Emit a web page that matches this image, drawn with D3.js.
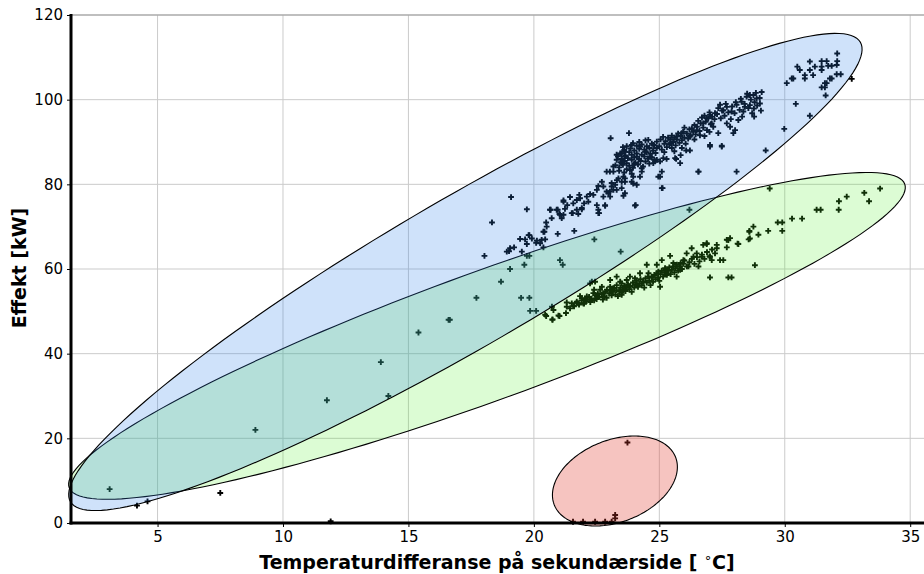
<!DOCTYPE html>
<html>
<head>
<meta charset="utf-8">
<script src="https://cdn.jsdelivr.net/npm/d3@7"></script>
<style>
  body { margin: 0; background: #fff; }
  text { font-family: "DejaVu Sans", sans-serif; }
</style>
</head>
<body>
<div id="chart"></div>
<script>
// Effekt vs temperaturdifferanse, clusters with ellipses

var width = 924;
var height = 574;

// upper cluster (blue ellipse)
var upperPoints = [
  [18.03,63.1],[18.33,71.0],[19.09,77.0],[19.72,74.1],[19.45,67.1],[19.82,68.0],[19.72,65.9],[19.65,67.0],
  [19.05,64.9],[19.01,64.2],[19.21,65.1],[18.92,64.1],[20.12,66.7],[20.31,66.9],[20.45,67.0],[20.25,66.1],
  [20.38,65.1],[20.09,66.2],[20.42,68.8],[20.51,70.0],[20.49,71.0],[20.71,72.0],[20.67,74.0],[20.95,74.0],
  [21.02,73.0],[21.11,72.0],[20.95,68.3],[21.24,74.2],[21.18,75.9],[21.33,75.1],[21.44,77.0],[21.57,75.5],
  [21.71,76.3],[21.81,77.5],[21.55,73.2],[21.77,73.0],[21.91,74.1],[22.0,75.5],[22.11,77.1],[22.24,77.7],
  [22.51,75.1],[22.6,73.2],[22.84,75.1],[22.77,77.1],[23.03,78.3],[23.17,78.7],[22.77,79.5],[22.57,79.6],
  [23.1,79.5],[23.24,79.9],[23.31,81.0],[23.5,79.1],[23.57,77.3],[23.03,83.0],[23.37,81.4],[23.63,81.4],
  [20.91,74.0],[21.18,72.8],[21.51,73.2],[21.71,74.0],[21.91,74.4],[22.17,75.9],[22.37,77.5],[22.57,74.0],
  [22.97,77.9],[23.1,80.3],[23.3,78.7],[23.5,80.6],[23.63,77.9],[23.9,80.6],[24.06,75.1],[25.1,79.1],
  [21.18,76.2],[21.84,76.7],[21.04,72.8],[20.64,74.0],[20.38,68.8],[19.79,68.0],[19.92,67.2],[22.71,80.6],
  [22.51,78.7],[22.9,78.3],[23.04,77.1],[23.17,83.0],[23.44,87.3],[23.63,86.5],[23.63,80.6],[23.96,80.2],
  [24.1,79.9],[24.83,85.4],[25.16,86.2],[24.96,81.8],[25.13,79.1],[25.63,86.2],[24.03,75.0],[22.57,73.2],
  [22.84,74.9],[21.61,69.0],[22.41,67.0],[23.46,64.1],
  [23.06,90.9],[23.79,92.1],[22.9,83.0],[23.17,84.2],[23.57,81.8],[23.96,81.8],[24.23,81.8],[24.3,83.8],
  [23.83,83.4],[23.5,85.0],[23.63,87.7],[23.9,89.3],[24.23,88.9],[24.56,90.5],[24.76,89.3],[24.43,87.7],
  [24.63,86.5],[24.1,86.5],[24.9,85.8],[24.76,85.0],[25.03,85.4],[25.29,86.0],[25.1,83.0],[25.03,81.8],
  [25.67,86.0],[25.85,86.9],[25.83,85.0],[26.56,83.0],[28.08,83.0],[26.07,88.0],[26.22,88.0],[27.02,88.9],
  [27.49,88.9],[29.24,88.0],[25.43,89.7],[25.69,91.3],[25.89,92.1],[26.22,91.3],[26.49,92.8],[26.62,91.6],
  [26.75,94.4],[26.89,95.6],[27.02,96.4],[27.22,96.8],[27.09,94.4],[27.35,92.1],[27.69,94.4],[27.82,93.6],
  [28.02,92.8],[27.95,92.1],[27.42,98.8],[27.55,97.5],[27.69,98.3],[27.88,97.2],[28.15,95.2],[28.08,98.8],
  [28.28,99.5],[28.41,98.3],[28.48,100.7],[28.61,101.1],[28.75,101.1],[28.88,100.3],[29.08,101.8],[29.01,99.1],
  [28.61,98.7],[28.77,97.9],[28.78,96.0],[28.35,97.2],[27.49,89.1],[27.02,89.3],[26.56,83.0],
  [23.25,84.5],[23.3,85.8],[23.35,86.6],[23.4,84.0],[23.45,85.2],[23.5,86.0],[23.5,87.3],[23.55,84.6],
  [23.6,85.5],[23.6,88.1],[23.65,86.8],[23.7,83.6],[23.7,85.0],[23.75,86.2],[23.8,87.6],[23.8,84.4],
  [23.85,88.5],[23.9,85.8],[23.9,87.0],[23.95,83.9],[24.0,86.4],[24.0,88.0],[24.05,85.1],[24.1,87.3],
  [24.1,89.1],[24.15,84.7],[24.2,86.0],[24.2,88.4],[24.25,85.5],[24.3,87.0],[24.3,89.4],[24.35,84.2],
  [24.4,86.6],[24.4,88.2],[24.45,85.4],[24.5,87.6],[24.5,89.0],[24.55,86.1],[24.6,88.6],[24.6,84.9],
  [24.65,87.2],[24.7,89.6],[24.7,86.4],[24.75,88.0],[24.8,85.8],[24.8,89.2],[24.85,87.4],[24.9,88.6],
  [24.9,90.1],[23.4,83.2],[23.6,82.8],[23.9,82.5],[24.3,83.0],[24.0,84.8],[23.3,87.0],[23.7,89.0],
  [24.2,90.0],[23.55,88.8],[23.95,89.7],[24.45,90.4],
  [25.0,89.0],[25.05,90.6],[25.1,88.2],[25.15,91.2],[25.2,89.6],[25.25,90.2],[25.3,88.8],[25.35,91.0],
  [25.4,89.4],[25.45,90.6],[25.5,91.5],[25.5,88.6],[25.55,90.0],[25.6,91.0],[25.65,89.2],[25.7,90.6],
  [25.75,92.0],[25.8,89.8],[25.85,91.4],[25.9,90.4],[25.95,92.4],[26.0,91.0],[26.05,89.6],[26.1,92.0],
  [26.15,90.8],[26.2,93.0],[25.2,87.6],[25.6,87.8],[25.9,88.6],[26.0,93.4],
  [26.25,91.6],[26.3,93.2],[26.35,92.4],[26.4,94.0],[26.45,91.8],[26.5,93.6],[26.55,95.0],[26.6,92.6],
  [26.65,94.4],[26.7,95.8],[26.75,93.4],[26.8,96.2],[26.85,94.8],[26.9,92.8],[26.95,95.6],[27.0,97.0],
  [27.05,94.2],[27.1,96.0],[27.15,93.6],[27.2,95.4],[26.4,90.6],[26.8,91.4],[27.0,92.4],
  [27.3,96.6],[27.35,98.0],[27.45,95.6],[27.5,97.4],[27.6,96.2],[27.65,99.0],[27.75,97.0],[27.85,95.4],
  [27.9,98.4],[28.0,96.8],[28.05,99.4],[28.2,97.6],[28.25,100.2],[28.3,96.0],[28.4,99.0],[28.5,101.4],
  [28.55,98.0],[28.65,100.0],[28.7,96.8],[28.8,99.4],[28.85,101.6],[28.9,98.6],[29.0,100.4],[29.05,97.4],
  [29.98,93.1],[30.44,99.0],[31.0,96.2],[30.08,103.9],[30.28,105.0],[30.34,105.0],[30.5,107.8],[30.6,107.0],
  [30.8,105.8],[30.8,105.0],[31.0,107.0],[31.0,109.0],[31.13,105.8],[31.2,107.8],[31.47,109.1],[31.67,109.1],
  [31.47,107.8],[31.73,108.0],[31.87,108.0],[32.07,108.2],[32.09,109.1],[32.09,110.9],[31.47,107.0],
  [32.07,106.0],[32.23,106.0],[31.8,105.0],[31.87,105.0],[31.6,103.9],[31.67,103.9],[31.47,102.9],
  [31.6,102.9],[31.63,101.0],[32.67,104.9]
];

// lower cluster (green ellipse)
var lowerPoints = [
  [19.05,60.0],[18.69,57.0],[21.04,62.1],[21.15,61.0],[19.62,61.0],[19.82,63.1],[19.72,63.1],[19.52,64.1],
  [17.71,53.2],[19.49,53.2],[19.82,53.2],[19.85,50.1],[20.09,50.1],[16.65,48.0],
  [20.72,51.1],[20.45,49.2],[20.74,48.0],[20.98,49.0],[21.28,49.6],[21.31,51.1],[21.51,51.9],[21.71,52.3],
  [21.91,53.1],[21.97,51.9],[22.11,53.5],[22.24,52.7],[22.37,54.3],[22.51,53.5],[22.64,55.1],[22.77,54.3],
  [22.91,55.1],[23.04,55.8],[23.17,55.5],[23.3,56.2],[23.5,56.6],[23.7,57.4],[22.24,56.6],[23.04,57.4],
  [23.3,58.2],[20.49,48.9],[20.74,48.1],[21.02,48.9],[20.78,50.3],[21.31,52.1],[21.44,50.7],[21.57,51.3],
  [21.77,51.9],[21.84,53.6],[22.04,52.7],[22.31,57.0],[22.44,57.0],[22.4,55.1],[22.71,55.8],[23.1,55.1],
  [23.44,57.0],[23.5,53.9],[23.83,58.2],[24.03,57.8],[24.1,56.2],[24.23,59.0],[24.37,57.0],[24.5,61.0],
  [24.57,59.0],[24.7,58.2],[24.9,61.0],[24.96,59.4],[25.03,55.8],[25.1,62.1],[25.23,60.2],[25.3,59.0],
  [25.43,63.1],[25.56,61.4],[25.69,58.2],[25.83,59.8],[25.96,62.1],[26.09,63.7],[26.16,60.6],[26.29,64.9],
  [26.36,62.9],[26.49,63.7],[26.56,60.6],[26.69,62.9],[26.75,65.7],[26.89,66.1],[27.02,62.9],[27.09,62.1],
  [27.22,63.7],[27.29,65.7],[27.42,62.1],[27.55,62.1],[27.69,66.9],[27.82,67.3],[28.15,65.9],[28.59,68.8],
  [28.75,70.0],[28.95,68.1],[28.61,67.2],[28.81,60.9],[27.02,58.0],[27.75,58.0],[27.88,58.0],
  [29.4,79.0],[33.8,79.0],[33.17,78.0],[33.36,76.0],[32.16,76.0],[32.47,77.1],[32.15,74.0],[31.27,74.0],
  [31.43,74.0],[30.29,71.9],[30.69,71.9],[29.72,71.0],[29.9,71.0],[29.9,69.0],[29.34,69.0],[28.59,69.0],
  [28.56,67.0],[28.12,66.0],[27.75,66.8],[27.69,65.1],[27.29,64.9],[26.89,65.9],[26.2,74.0],
  [21.6,51.2],[21.7,52.0],[21.8,51.6],[21.9,52.6],[22.0,51.8],[22.05,53.0],[22.1,52.4],[22.2,53.4],
  [22.25,52.2],[22.3,53.0],[22.4,52.6],[22.45,53.8],[22.5,52.9],[22.55,54.2],[22.6,53.4],[22.7,54.0],
  [22.75,52.8],[22.8,53.6],[22.85,54.6],[22.9,53.2],[23.0,54.2],[23.05,55.0],[23.1,53.8],[23.15,54.6],
  [23.2,55.4],[23.25,54.0],[23.3,55.0],[23.35,53.6],[23.4,54.8],[23.45,55.6],[23.5,54.4],[23.55,55.2],
  [23.6,56.0],[23.65,54.8],[23.7,55.6],[23.75,56.4],[23.8,55.2],[23.85,56.0],[23.9,54.6],[23.95,56.8],
  [24.0,55.6],[24.05,56.4],[24.1,57.2],[24.15,55.8],[24.2,56.6],[24.25,57.6],[24.3,56.2],[24.35,57.0],
  [24.4,55.6],[24.45,57.8],[24.5,56.8],[24.55,58.2],[24.6,57.2],[24.65,56.2],[24.7,58.0],[24.75,57.0],
  [24.8,58.6],[24.85,57.6],[24.9,59.0],[24.95,58.0],[25.0,57.2],[25.05,58.8],[25.1,59.6],[25.15,58.2],
  [25.2,59.2],[25.25,60.0],[25.3,58.6],[25.35,59.6],[25.4,60.4],[25.45,58.8],[25.5,59.8],[25.55,60.6],
  [25.6,59.2],[25.65,60.2],[25.7,61.0],[25.75,59.6],[25.8,60.6],[25.85,61.4],[25.9,60.0],[25.95,61.2],
  [26.0,62.0],[26.1,60.6],[26.2,61.6],[26.3,62.4],[26.4,61.2],[26.5,62.8],[26.6,61.8],[26.7,63.4],
  [26.8,62.4],[26.9,64.0],[27.0,63.0],[27.1,64.6]
];

// scattered low points and the zero group (red ellipse)
var lowPoints = [
  [3.09,8.0],[4.18,4.1],[4.6,5.1],[7.5,7.1],[8.9,22.0],[11.75,29.0],[11.9,0.4],[13.9,38.0],
  [14.2,30.0],[15.4,45.0],[16.6,48.0]
];
var zeroPoints = [
  [23.73,19.0],[23.24,1.9],[23.24,1.1],[21.56,0.3],[21.96,0.3],[22.44,0.3],[22.84,0.3],[23.1,0.3]
];

// ellipses: centre and two conjugate semi-axis vectors, data units
var ellipseNames = ["lower", "upper", "zero"];
var ellipseCentres = [[18.13, 44.2], [17.27, 59.3], [23.23, 9.92]];
var ellipseAxisU = [[16.65, 35.9], [15.74, 54.3], [2.49, 3.31]];
var ellipseAxisV = [[0.92, -14.2], [1.51, -15.1], [0.0, 10.1]];
var ellipseFills = ["rgba(80,240,40,0.2)", "rgba(48,130,235,0.23)", "rgba(225,58,45,0.3)"];

var xTicks = [5, 10, 15, 20, 25, 30, 35];
var yTicks = [0, 20, 40, 60, 80, 100, 120];

var svg = d3.select("#chart")
    .append("svg")
    .attr("width", width)
    .attr("height", height);

var x = d3.scaleLinear().domain([1.55, 35.55]).range([71, 924]);
var y = d3.scaleLinear().domain([0, 120]).range([523, 15]);

// grid
svg.append("g")
    .selectAll("line")
    .data(xTicks)
    .enter()
    .append("line")
    .attr("x1", d => x(d)).attr("x2", d => x(d))
    .attr("y1", y(120)).attr("y2", y(0))
    .attr("stroke", "#cbcbcb")
    .attr("stroke-width", 1);

svg.append("g")
    .selectAll("line")
    .data(yTicks)
    .enter()
    .append("line")
    .attr("x1", x(1.55)).attr("x2", width)
    .attr("y1", d => y(d)).attr("y2", d => y(d))
    .attr("stroke", d => d == 120 ? "#aaaaaa" : "#cbcbcb")
    .attr("stroke-width", d => d == 120 ? 1.5 : 1);

// points
var allPoints = upperPoints.concat(lowerPoints, lowPoints, zeroPoints);
svg.append("g")
    .selectAll("path")
    .data(allPoints)
    .enter()
    .append("path")
    .attr("d", d => "M" + (x(d[0]) - 2.9) + "," + y(d[1]) + "h5.8M" + x(d[0]) + "," + (y(d[1]) - 2.9) + "v5.8")
    .attr("stroke", "#000")
    .attr("stroke-width", 1.9)
    .attr("fill", "none");

// ellipses
var steps = d3.range(0, 360, 2);
var line = d3.line().curve(d3.curveLinearClosed);
ellipseNames.forEach(function(name, i) {
    var c = ellipseCentres[i], u = ellipseAxisU[i], v = ellipseAxisV[i];
    var pts = steps.map(function(deg) {
        var t = deg * Math.PI / 180;
        return [
            x(c[0] + u[0] * Math.cos(t) + v[0] * Math.sin(t)),
            y(c[1] + u[1] * Math.cos(t) + v[1] * Math.sin(t))
        ];
    });
    svg.append("path")
        .attr("class", "ellipse " + name)
        .attr("d", line(pts))
        .attr("fill", ellipseFills[i])
        .attr("stroke", "#000")
        .attr("stroke-width", 1.1);
});

// axes
var yAxis = d3.axisLeft(y).tickValues(yTicks).tickSize(4).tickPadding(4);
var xAxis = d3.axisBottom(x).tickValues(xTicks).tickSize(4).tickPadding(4);

var gy = svg.append("g").attr("transform", "translate(71,0)").call(yAxis);
var gx = svg.append("g").attr("transform", "translate(0,523)").call(xAxis);

[gx, gy].forEach(function(g) {
    g.select(".domain").remove();
    g.selectAll(".tick line").attr("stroke", "#000").attr("stroke-width", 1);
    g.selectAll(".tick text")
        .attr("fill", "#000")
        .style("font-size", "15px")
        .style("font-family", "DejaVu Sans, sans-serif");
});

// spines
svg.append("line")
    .attr("x1", 71).attr("x2", 71)
    .attr("y1", y(120) - 1).attr("y2", y(0) + 1.5)
    .attr("stroke", "#000").attr("stroke-width", 3);
svg.append("line")
    .attr("x1", 69.5).attr("x2", width)
    .attr("y1", y(0)).attr("y2", y(0))
    .attr("stroke", "#000").attr("stroke-width", 3);

// axis labels
var xLabel = svg.append("text")
    .attr("x", 497)
    .attr("y", 569)
    .attr("text-anchor", "middle")
    .style("font-size", "19px")
    .style("font-weight", "bold");
xLabel.append("tspan").text("Temperaturdifferanse på sekundærside [ ");
xLabel.append("tspan")
    .attr("dy", -7)
    .style("font-size", "13px")
    .style("font-weight", "normal")
    .text("∘");
xLabel.append("tspan").attr("dy", 7).text("C]");

svg.append("text")
    .attr("transform", "translate(26,268) rotate(-90)")
    .attr("text-anchor", "middle")
    .style("font-size", "19px")
    .style("font-weight", "bold")
    .text("Effekt [kW]");
</script>
</body>
</html>
